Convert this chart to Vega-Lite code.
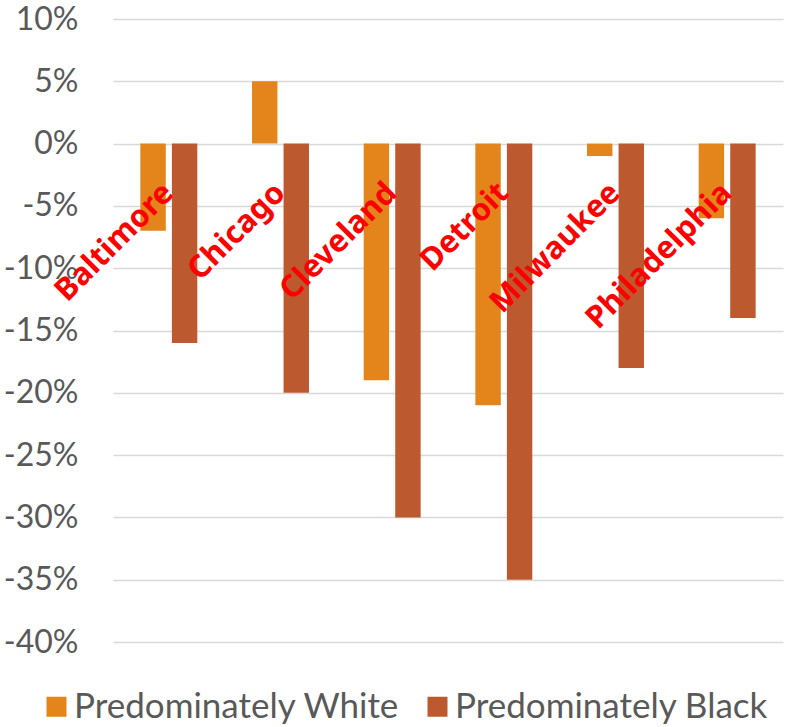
{
  "$schema": "https://vega.github.io/schema/vega-lite/v6.json",
  "autosize": {"type": "none"},
  "padding": {"left": 113, "top": 19, "right": 5, "bottom": 85},
  "width": 670,
  "height": 623,
  "data": {"values": [
    {"city": "Baltimore", "group": "Predominately White", "pct": -7},
    {"city": "Baltimore", "group": "Predominately Black", "pct": -16},
    {"city": "Chicago", "group": "Predominately White", "pct": 5},
    {"city": "Chicago", "group": "Predominately Black", "pct": -20},
    {"city": "Cleveland", "group": "Predominately White", "pct": -19},
    {"city": "Cleveland", "group": "Predominately Black", "pct": -30},
    {"city": "Detroit", "group": "Predominately White", "pct": -21},
    {"city": "Detroit", "group": "Predominately Black", "pct": -35},
    {"city": "Milwaukee", "group": "Predominately White", "pct": -1},
    {"city": "Milwaukee", "group": "Predominately Black", "pct": -18},
    {"city": "Philadelphia", "group": "Predominately White", "pct": -6},
    {"city": "Philadelphia", "group": "Predominately Black", "pct": -14}
  ]},
  "config": {
    "view": {"stroke": null},
    "font": "Lato"
  },
  "layer": [
    {
      "mark": {"type": "bar"},
      "encoding": {
        "x": {
          "field": "city", "type": "nominal", "sort": null,
          "scale": {"paddingInner": 0.49, "paddingOuter": 0.245},
          "axis": null
        },
        "xOffset": {
          "field": "group", "type": "nominal",
          "sort": ["Predominately White", "Predominately Black"],
          "scale": {"paddingInner": 0.194, "paddingOuter": 0}
        },
        "y": {
          "field": "pct", "type": "quantitative",
          "scale": {"domain": [-40, 10], "nice": false, "zero": false},
          "axis": {
            "title": null,
            "values": [-40, -35, -30, -25, -20, -15, -10, -5, 0, 5, 10],
            "labelExpr": "datum.value + '%'",
            "labelFont": "Lato",
            "labelFontSize": 32,
            "labelColor": "#595959",
            "labelPadding": 35,
            "ticks": false,
            "domain": false,
            "grid": true,
            "gridColor": "#D9D9D9",
            "gridWidth": 1.5
          }
        },
        "color": {
          "field": "group", "type": "nominal",
          "scale": {
            "domain": ["Predominately White", "Predominately Black"],
            "range": ["#E3851A", "#BD592E"]
          },
          "legend": {
            "title": null,
            "orient": "none",
            "direction": "horizontal",
            "legendX": -74,
            "legendY": 670,
            "symbolType": "square",
            "symbolSize": 400,
            "symbolStrokeWidth": 0,
            "labelFont": "Lato",
            "labelFontSize": 35,
            "labelColor": "#595959",
            "labelOffset": 0,
            "columnPadding": 20,
            "labelLimit": 0
          }
        }
      }
    },
    {
      "data": {"values": [
        {"city": "Baltimore"}, {"city": "Chicago"}, {"city": "Cleveland"},
        {"city": "Detroit"}, {"city": "Milwaukee"}, {"city": "Philadelphia"}
      ]},
      "mark": {
        "type": "text",
        "angle": -45,
        "align": "right",
        "baseline": "middle",
        "font": "Noto Sans",
        "fontWeight": "bold",
        "fontSize": 31,
        "color": "#FF0000"
      },
      "encoding": {
        "x": {"field": "city", "type": "nominal", "sort": null},
        "y": {"datum": -3.6, "type": "quantitative"},
        "text": {"field": "city"}
      }
    }
  ]
}
